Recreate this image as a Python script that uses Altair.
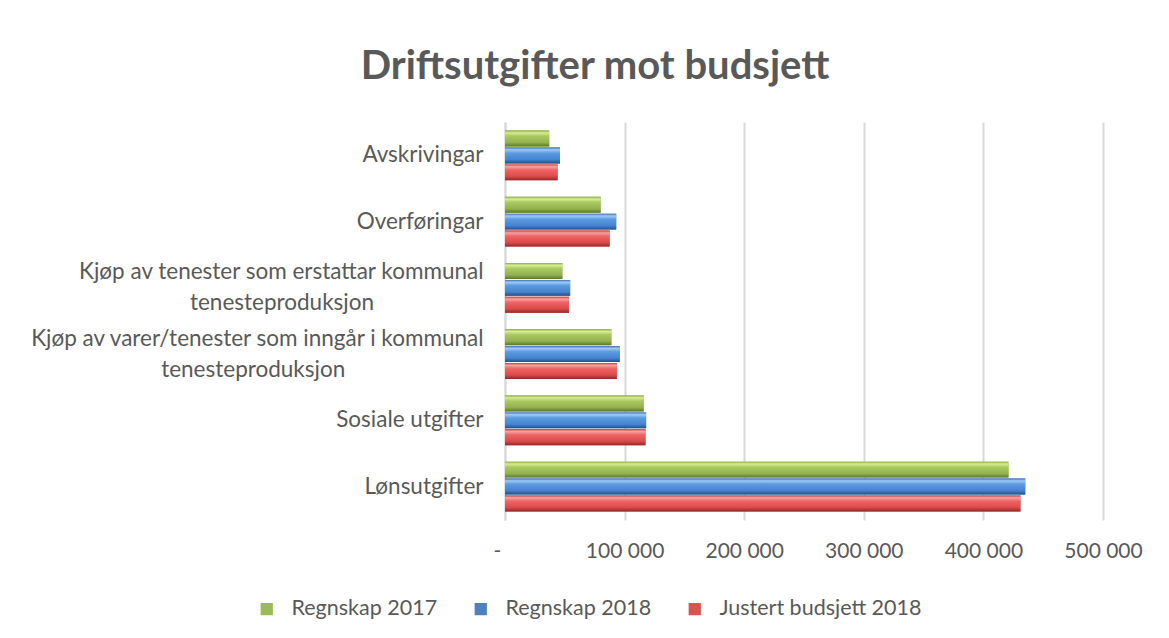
import altair as alt
import pandas as pd

# ---- data ----
categories = [
    "Avskrivingar",
    "Overføringar",
    "Kjøp av tenester som erstattar kommunal tenesteproduksjon",
    "Kjøp av varer/tenester som inngår i kommunal tenesteproduksjon",
    "Sosiale utgifter",
    "Lønsutgifter",
]
series = ["Regnskap 2017", "Regnskap 2018", "Justert budsjett 2018"]
regnskap_2017 = [37000, 80000, 48000, 89000, 116000, 421000]
regnskap_2018 = [46000, 93000, 54500, 96000, 118000, 435000]
justert_budsjett_2018 = [44000, 87500, 53500, 93500, 117500, 431000]
x_ticks = [0, 100000, 200000, 300000, 400000, 500000]
legend_colors = ["#9bbb59", "#4f81bd", "#d9534f"]

rows = []
for i, c in enumerate(categories):
    for s, vals in zip(series, [regnskap_2017, regnskap_2018, justert_budsjett_2018]):
        rows.append({"kategori": c, "serie": s, "verdi": vals[i]})
df = pd.DataFrame(rows)

FONT = "Lato"
TXT = "#595959"
NB = "\u00a0"
ZW = "\u200b"

pad1 = NB * 19 + ZW
pad2 = NB * 24 + ZW
label_expr = (
    f"datum.label == '{categories[2]}' ? ['Kjøp av tenester som erstattar kommunal', 'tenesteproduksjon{pad1}'] : "
    f"datum.label == '{categories[3]}' ? ['Kjøp av varer/tenester som inngår i kommunal', 'tenesteproduksjon{pad2}'] : datum.label"
)
x_label_expr = f"datum.value == 0 ? '-{NB*3}{ZW}' : replace(format(datum.value, ','), ',', ' ')"


def grad(c0, c1, c2, c3, c4):
    return alt.Gradient(
        gradient="linear",
        x1=0, x2=0, y1=0, y2=1,
        stops=[
            alt.GradientStop(color=c0, offset=0),
            alt.GradientStop(color=c1, offset=0.14),
            alt.GradientStop(color=c2, offset=0.35),
            alt.GradientStop(color=c3, offset=0.75),
            alt.GradientStop(color=c4, offset=1),
        ],
    )


gradients = [
    grad("#8fac4c", "#d6ee90", "#a9c960", "#93b14f", "#5c7724"),
    grad("#3c71b3", "#9ecbf6", "#5b9be1", "#4584d0", "#234f89"),
    grad("#c24444", "#f7a2a2", "#ee6464", "#dc4b4b", "#942828"),
]

y_enc = alt.Y(
    "kategori:N",
    sort=categories,
    scale=alt.Scale(domain=categories, paddingInner=0.25, paddingOuter=0.13),
    axis=alt.Axis(
        title=None,
        labelExpr=label_expr,
        labelFont=FONT,
        labelFontSize=22.5,
        labelColor=TXT,
        labelPadding=22,
        labelLineHeight=31,
        labelLimit=0,
        labelOffset={"condition": {"test": "indexof(datum.value, 'produksjon') >= 0", "value": -15.5}, "value": 0},
        ticks=False,
        domain=True,
        domainColor="#d9d9d9",
        domainWidth=2,
        grid=False,
    ),
)
x_enc = alt.X(
    "verdi:Q",
    scale=alt.Scale(domain=[0, 500000], nice=False),
    axis=alt.Axis(
        title=None,
        values=x_ticks,
        labelExpr=x_label_expr,
        labelFont=FONT,
        labelFontSize=21,
        labelColor=TXT,
        labelPadding=20,
        labelFlush=False,
        labelOverlap=False,
        grid=True,
        gridColor="#d9d9d9",
        gridWidth=2,
        domain=False,
        ticks=False,
    ),
)
yoff_enc = alt.YOffset(
    "serie:N", sort=series, scale=alt.Scale(domain=series, paddingInner=0.06)
)

base = alt.Chart(df).encode(x=x_enc, y=y_enc, yOffset=yoff_enc)

legend_layer = base.mark_bar().encode(
    color=alt.Color(
        "serie:N",
        sort=series,
        scale=alt.Scale(domain=series, range=legend_colors),
        legend=alt.Legend(
            title=None,
            orient="none",
            direction="horizontal",
            legendX=-249,
            legendY=476,
            symbolType="square",
            symbolSize=150,
            symbolStrokeWidth=0,
            labelFont=FONT,
            labelFontSize=21.5,
            labelColor=TXT,
            labelOffset=14,
            labelLimit=0,
            columnPadding=32,
        ),
    )
)

layers = [legend_layer]
for s, g in zip(series, gradients):
    layers.append(
        base.transform_filter(alt.datum.serie == s).mark_bar(fill=g)
    )

chart = (
    alt.layer(*layers)
    .properties(
        width=598,
        height=398,
        title=alt.Title(
            "Driftsutgifter mot budsjett",
            font=FONT,
            fontSize=40,
            fontWeight="bold",
            color=TXT,
            anchor="middle",
            frame="group",
            dx=-209,
            offset=35,
        ),
        autosize=alt.AutoSizeParams(type="none"),
        padding={"left": 497, "top": 114, "right": 50, "bottom": 100},
        background="white",
    )
    .configure_view(stroke=None)
)

chart.save("out.html", embed_options={"renderer": "svg", "actions": False})
